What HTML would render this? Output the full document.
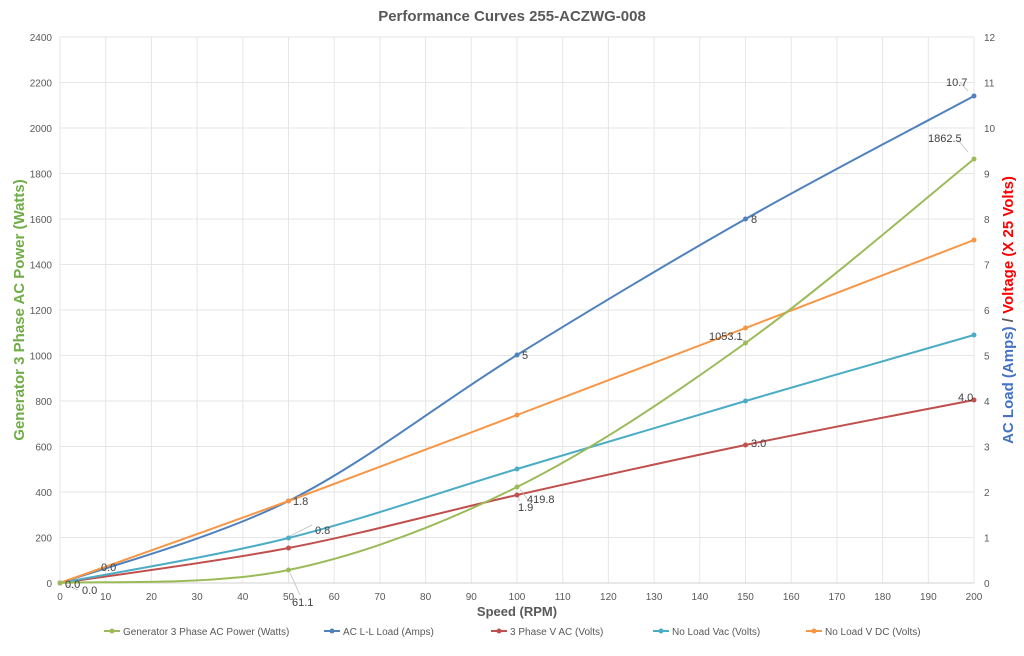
<!DOCTYPE html>
<html><head><meta charset="utf-8"><style>
body{margin:0;background:#fff;width:1024px;height:651px;overflow:hidden;font-family:"Liberation Sans",sans-serif}
</style></head><body>
<svg id="s" width="1024" height="651" xmlns="http://www.w3.org/2000/svg" font-family="Liberation Sans, sans-serif"></svg>
<script>
const s=document.getElementById('s');let h='';
const X=v=>60+v*4.57, Y=w=>583-w*0.2275;
h+='<rect width="1024" height="651" fill="#fff"/>';
for(let v=0;v<=200;v+=10){h+=`<line x1="${X(v)}" y1="37" x2="${X(v)}" y2="583" stroke="#e6e6e6"/>`;h+=`<text x="${X(v)}" y="600" font-size="10" fill="#595959" text-anchor="middle">${v}</text>`;}
for(let w=0;w<=2400;w+=200){h+=`<line x1="60" y1="${Y(w)}" x2="974" y2="${Y(w)}" stroke="#e6e6e6"/>`;h+=`<text x="52" y="${Y(w)+4}" font-size="10" fill="#595959" text-anchor="end">${w}</text>`;h+=`<text x="984" y="${Y(w)+4}" font-size="10" fill="#595959">${w/200}</text>`;}
h+='<line x1="60" y1="583" x2="974" y2="583" stroke="#d0d0d0"/>';
h+='<text x="512" y="21" font-size="15" font-weight="bold" fill="#595959" text-anchor="middle">Performance Curves 255-ACZWG-008</text>';
h+='<text x="517" y="616" font-size="13" font-weight="bold" fill="#595959" text-anchor="middle">Speed (RPM)</text>';
h+='<text transform="translate(24,310) rotate(-90)" font-size="15" font-weight="bold" fill="#70ad47" text-anchor="middle">Generator 3 Phase AC Power (Watts)</text>';
h+='<text transform="translate(1013,310) rotate(-90)" font-size="15" font-weight="bold" text-anchor="middle"><tspan fill="#4472c4">AC Load (Amps)</tspan><tspan fill="#595959"> / </tspan><tspan fill="#ff0000">Voltage (X 25 Volts)</tspan></text>';
const S=[
['#9bbb59',[[0,583],[50,570],[100,487],[150,343],[200,159]]],
['#4f81bd',[[0,583],[50,501],[100,355],[150,219],[200,96]]],
['#f79646',[[0,583],[50,501],[100,415],[150,328],[200,240]]],
['#4bacc6',[[0,583],[50,538],[100,469],[150,401],[200,335]]],
['#c0504d',[[0,583],[50,548],[100,495],[150,445],[200,400]]]];
function path(p){let d=`M${X(p[0][0])},${p[0][1]}`;for(let i=0;i<p.length-1;i++){const a=p[Math.max(i-1,0)],b=p[i],c=p[i+1],e=p[Math.min(i+2,p.length-1)];
const bx=X(b[0]),cx=X(c[0]),ax=X(a[0]),ex=X(e[0]);
d+=` C${bx+(cx-ax)/6},${b[1]+(c[1]-a[1])/6} ${cx-(ex-bx)/6},${c[1]-(e[1]-b[1])/6} ${cx},${c[1]}`;}return d;}
[4,3,1,2,0].forEach(i=>{const [c,p]=S[i];h+=`<path d="${path(p)}" fill="none" stroke="${c}" stroke-width="2"/>`;p.forEach(q=>h+=`<circle cx="${X(q[0])}" cy="${q[1]}" r="2.5" fill="${c}"/>`);});
const ld=[[66,585,78,590],[290,573,300,595],[290,536,312,525],[520,489,528,500],[519,497,519,501],[968,91,960,82],[968,152,958,140],[745,341,735,338]];
ld.forEach(l=>h+=`<line x1="${l[0]}" y1="${l[1]}" x2="${l[2]}" y2="${l[3]}" stroke="#bfbfbf" stroke-width="0.8"/>`);
const L=[[65,588,'0.0'],[82,594,'0.0'],[101,571,'0.0'],[293,505,'1.8'],[315,534,'0.8'],[292,606,'61.1'],[522,359,'5'],[518,511,'1.9'],[527,503,'419.8'],[751,223,'8'],[751,447,'3.0'],[709,340,'1053.1'],[946,86,'10.7'],[928,142,'1862.5'],[958,401,'4.0']];
L.forEach(l=>h+=`<text x="${l[0]}" y="${l[1]}" font-size="11" fill="#404040">${l[2]}</text>`);
const G=[['Generator 3 Phase AC Power (Watts)','#9bbb59',104],['AC L-L Load (Amps)','#4f81bd',324],['3 Phase V AC  (Volts)','#c0504d',491],['No Load Vac (Volts)','#4bacc6',653],['No Load V DC (Volts)','#f79646',806]];
G.forEach(g=>{h+=`<line x1="${g[2]}" y1="631" x2="${g[2]+16}" y2="631" stroke="${g[1]}" stroke-width="2"/><circle cx="${g[2]+8}" cy="631" r="2.5" fill="${g[1]}"/><text x="${g[2]+19}" y="635" font-size="10" fill="#595959">${g[0]}</text>`;});
s.innerHTML=h;
</script>
</body></html>
